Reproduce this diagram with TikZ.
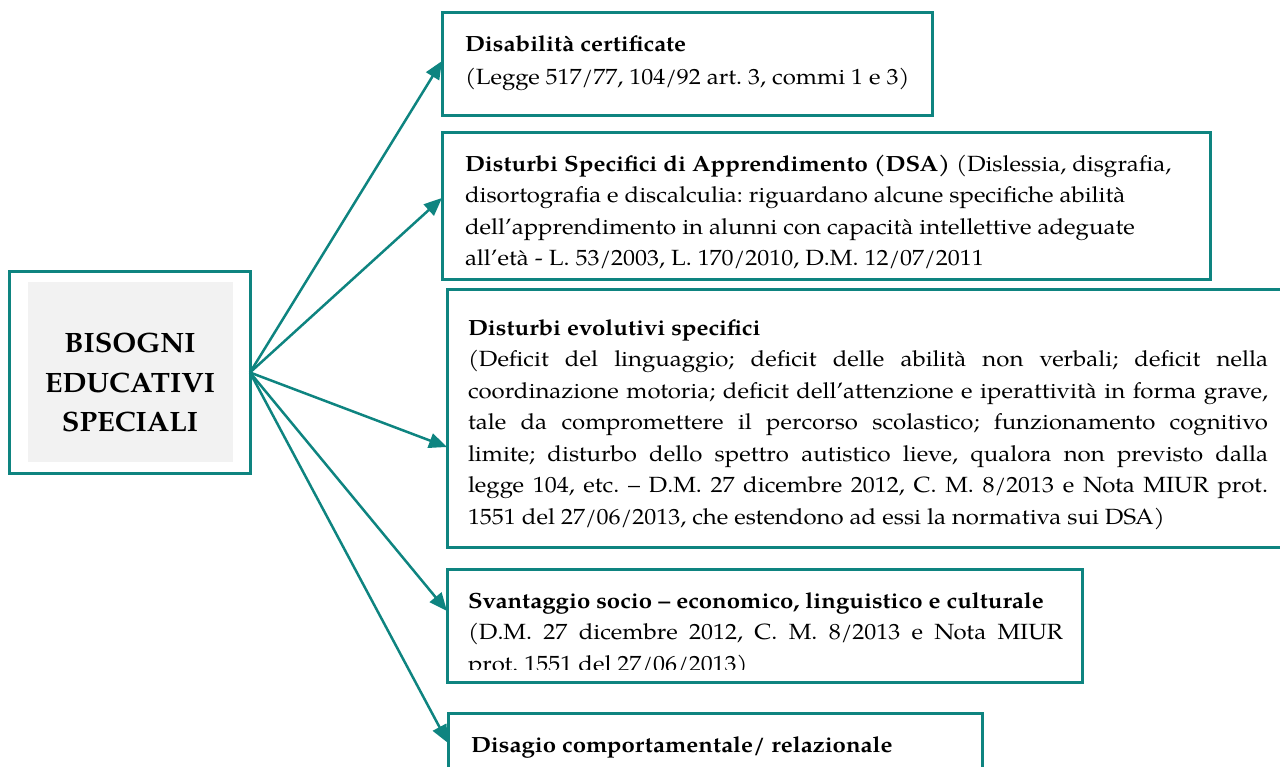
\documentclass[tikz,border=0pt]{standalone}
\usepackage{fontspec}
\setmainfont{TeX Gyre Pagella}[FakeStretch=1.09]
\newfontfamily\hubfont{TeX Gyre Pagella}[FakeStretch=1.03]
\usetikzlibrary{arrows.meta,calc}
\definecolor{tealc}{HTML}{0E8480}
\definecolor{graybg}{HTML}{F2F2F2}
\begin{document}
\frenchspacing
\begin{tikzpicture}[x=1pt,y=-1pt,
  box/.style={draw=tealc,line width=3pt,rectangle,anchor=north west,inner sep=0pt,outer sep=0pt},
  txt/.style={anchor=north west,inner sep=0pt,outer sep=0pt,font=\fontsize{22}{31.5}\selectfont},
  arr/.style={draw=tealc,line width=2.5pt,-{Triangle[length=18pt,width=15pt]}},
]
\useasboundingbox (0,0) rectangle (1280,767);
% central box
\node[box,minimum width=241pt,minimum height=201pt] (bes) at (9,272) {};
\node[fill=graybg,inner sep=0pt,minimum width=205pt,minimum height=180pt] (besin) at (130.5,372) {};
\node[anchor=north,inner sep=0pt,align=center,font=\hubfont\fontsize{28}{39.5}\selectfont\bfseries] (bestxt) at (130,325) {\strut BISOGNI\\EDUCATIVI\\SPECIALI};
% boxes
\node[box,minimum width=490pt,minimum height=103pt] (b1) at (442,13) {};
\node[box,minimum width=768pt,minimum height=147pt] (b2) at (442,133) {};
\node[box,minimum width=860pt,minimum height=257pt] (b3) at (447,290) {};
\node[box,minimum width=635pt,minimum height=113pt] (b4) at (447,569) {};
\node[box,minimum width=534pt,minimum height=100pt] (b5) at (448,713) {};
% texts
\node[txt,font=\fontsize{22}{33}\selectfont,align=left] (t1) at (465,28) {\strut\textbf{Disabilità certificate}\\(Legge 517/77, 104/92 art. 3, commi 1 e 3)};
\node[txt,align=left] (t2) at (465,149) {\strut\textbf{Disturbi Specifici di Apprendimento (DSA)} (Dislessia, disgrafia,\\disortografia e discalculia: riguardano alcune specifiche abilità\\dell’apprendimento in alunni con capacità intellettive adeguate\\all’età - L. 53/2003, L. 170/2010, D.M. 12/07/2011};
\node[txt,text width=800pt,align=justify] (t3) at (468,313) {\strut\textbf{Disturbi evolutivi specifici}\\(Deficit del linguaggio; deficit delle abilità non verbali; deficit nella\linebreak coordinazione motoria; deficit dell’attenzione e iperattività in forma grave,\linebreak tale da compromettere il percorso scolastico; funzionamento cognitivo\linebreak limite; disturbo dello spettro autistico lieve, qualora non previsto dalla\linebreak legge 104, etc. – D.M. 27 dicembre 2012, C. M. 8/2013 e Nota MIUR prot.\linebreak 1551 del 27/06/2013, che estendono ad essi la normativa sui DSA)};
\begin{scope}
\clip (447,569) rectangle (1082,669);
\node[txt,text width=595pt,align=justify] (t4) at (468,586) {\strut\textbf{Svantaggio socio – economico, linguistico e culturale}\\(D.M. 27 dicembre 2012, C. M. 8/2013 e Nota MIUR\linebreak prot. 1551 del 27/06/2013)};
\end{scope}
\node[txt,align=left] (t5) at (471,730) {\strut\textbf{Disagio comportamentale/ relazionale}};
% arrows
\draw[arr] (bes.east) -- ([yshift=3.5pt]b1.west);
\draw[arr] (bes.east) -- ([yshift=8.5pt]b2.west);
\draw[arr] (bes.east) -- ([yshift=-28.5pt]b3.west);
\draw[arr] (bes.east) -- ([yshift=14.5pt]b4.west);
\draw[arr] (bes.east) -- ([yshift=20pt]b5.west);
\end{tikzpicture}
\end{document}
